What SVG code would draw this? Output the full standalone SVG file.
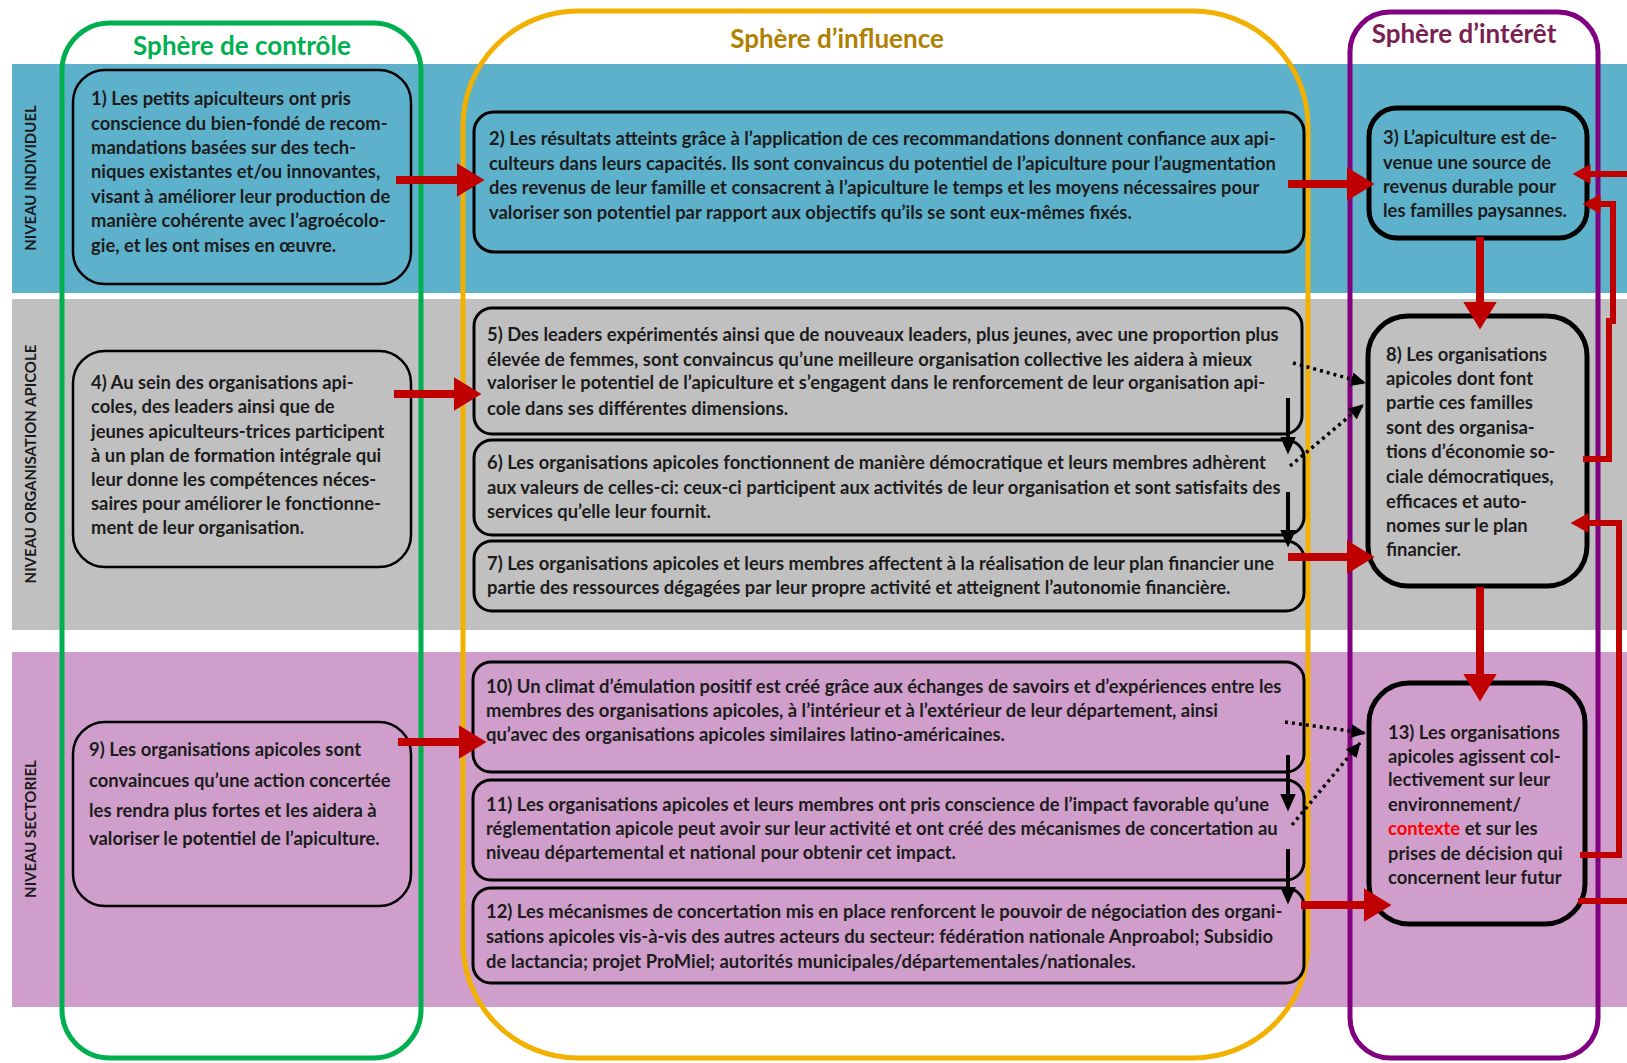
<svg xmlns="http://www.w3.org/2000/svg" width="1627" height="1063" viewBox="0 0 1627 1063">
  <style>
    .band-ind { fill: #5eb1cb; }
    .band-org { fill: #c0c0c0; }
    .band-sec { fill: #cf9ecb; }
    .sphere { fill: none; stroke-width: 5; }
    .title { font-family: Lato, "Liberation Sans", sans-serif; font-weight: bold; font-size: 26px; text-anchor: middle; }
    .lvl { font-family: Lato, "Liberation Sans", sans-serif; font-weight: bold; font-size: 15px; fill: #1a1a1a; text-anchor: middle; }
    .box-l { fill: none; stroke: #000; stroke-width: 2.5; }
    .box-m { fill: none; stroke: #000; stroke-width: 3; }
    .box-r { fill: none; stroke: #000; stroke-width: 5; }
    .txt { font-family: Lato, "Liberation Sans", sans-serif; font-weight: bold; font-size: 18.4px; fill: #1c1c1c; }
    .hl { fill: #ff0000; }
    .red { fill: none; stroke: #c00000; stroke-width: 8; }
    .red-fb { fill: none; stroke: #c00000; stroke-width: 6; }
    .blk { fill: none; stroke: #000; stroke-width: 4; }
    .dot { fill: none; stroke: #000; stroke-width: 3.5; stroke-dasharray: 3 4; }
  </style>
  <defs>
    <marker id="head-red" markerUnits="userSpaceOnUse" markerWidth="28" markerHeight="34" refX="0.5" refY="17" orient="auto">
      <path d="M0,0 L28,17 L0,34 z" fill="#c00000"/>
    </marker>
    <marker id="head-fb" markerUnits="userSpaceOnUse" markerWidth="18" markerHeight="20" refX="0.5" refY="10" orient="auto">
      <path d="M0,0 L18,10 L0,20 z" fill="#c00000"/>
    </marker>
    <marker id="head-blk" markerUnits="userSpaceOnUse" markerWidth="18" markerHeight="16" refX="0.5" refY="8" orient="auto">
      <path d="M0,0 L18,8 L0,16 z" fill="#000"/>
    </marker>
    <marker id="head-dot" markerUnits="userSpaceOnUse" markerWidth="15" markerHeight="14" refX="14" refY="7" orient="auto">
      <path d="M0,0 L15,7 L0,14 z" fill="#000"/>
    </marker>
  </defs>

  <!-- level bands -->
  <g id="bands">
    <rect class="band-ind" x="12" y="64" width="1615" height="229"/>
    <rect class="band-org" x="12" y="299" width="1615" height="331"/>
    <rect class="band-sec" x="12" y="652" width="1615" height="355"/>
    <text class="lvl" transform="translate(36,178) rotate(-90)">NIVEAU INDIVIDUEL</text>
    <text class="lvl" transform="translate(36,464) rotate(-90)">NIVEAU ORGANISATION APICOLE</text>
    <text class="lvl" transform="translate(36,829) rotate(-90)">NIVEAU SECTORIEL</text>
  </g>

  <!-- spheres -->
  <g id="sphere-controle">
    <rect class="sphere" stroke="#00b050" x="62" y="23" width="359" height="1035" rx="48"/>
    <text class="title" fill="#00b050" x="242" y="55">Sphère de contrôle</text>
  </g>
  <g id="sphere-influence">
    <rect class="sphere" stroke="#f2b000" x="463" y="11" width="845" height="1047" rx="115"/>
    <text class="title" fill="#b08000" x="837" y="48">Sphère d’influence</text>
  </g>
  <g id="sphere-interet">
    <rect class="sphere" stroke="#800080" x="1350" y="12" width="248" height="1046" rx="40"/>
    <text class="title" fill="#7a1f52" x="1464" y="43">Sphère d’intérêt</text>
  </g>

  <!-- nodes -->
  <g id="n1">
    <rect class="box-l" x="73" y="70" width="338" height="214" rx="32"/>
    <text class="txt">
      <tspan x="91" y="105">1) Les petits apiculteurs ont pris</tspan>
      <tspan x="91" y="130">conscience du bien-fondé de recom-</tspan>
      <tspan x="91" y="154">mandations basées sur des tech-</tspan>
      <tspan x="91" y="178">niques existantes et/ou innovantes,</tspan>
      <tspan x="91" y="203">visant à améliorer leur production de</tspan>
      <tspan x="91" y="227">manière cohérente avec l’agroécolo-</tspan>
      <tspan x="91" y="252">gie, et les ont mises en œuvre.</tspan>
    </text>
  </g>
  <g id="n2">
    <rect class="box-m" x="474" y="112" width="830" height="140" rx="20"/>
    <text class="txt">
      <tspan x="489" y="145">2) Les résultats atteints grâce à l’application de ces recommandations donnent confiance aux api-</tspan>
      <tspan x="489" y="170">culteurs dans leurs capacités. Ils sont convaincus du potentiel de l’apiculture pour l’augmentation</tspan>
      <tspan x="489" y="194">des revenus de leur famille et consacrent à l’apiculture le temps et les moyens nécessaires pour</tspan>
      <tspan x="489" y="219">valoriser son potentiel par rapport aux objectifs qu’ils se sont eux-mêmes fixés.</tspan>
    </text>
  </g>
  <g id="n3">
    <rect class="box-r" x="1369" y="108" width="218" height="130" rx="28"/>
    <text class="txt">
      <tspan x="1383" y="144">3) L’apiculture est de-</tspan>
      <tspan x="1383" y="169">venue une source de</tspan>
      <tspan x="1383" y="193">revenus durable pour</tspan>
      <tspan x="1383" y="217">les familles paysannes.</tspan>
    </text>
  </g>
  <g id="n4">
    <rect class="box-l" x="73" y="351" width="338" height="216" rx="32"/>
    <text class="txt">
      <tspan x="91" y="389">4) Au sein des organisations api-</tspan>
      <tspan x="91" y="413">coles, des leaders ainsi que de</tspan>
      <tspan x="91" y="438">jeunes apiculteurs-trices participent</tspan>
      <tspan x="91" y="462">à un plan de formation intégrale qui</tspan>
      <tspan x="91" y="486">leur donne les compétences néces-</tspan>
      <tspan x="91" y="510">saires pour améliorer le fonctionne-</tspan>
      <tspan x="91" y="534">ment de leur organisation.</tspan>
    </text>
  </g>
  <g id="n5">
    <rect class="box-m" x="474" y="308" width="828" height="126" rx="18"/>
    <text class="txt">
      <tspan x="487" y="341">5) Des leaders expérimentés ainsi que de nouveaux leaders, plus jeunes, avec une proportion plus</tspan>
      <tspan x="487" y="366">élevée de femmes,  sont convaincus qu’une meilleure organisation collective les aidera à mieux</tspan>
      <tspan x="487" y="389">valoriser le potentiel de l’apiculture et s’engagent dans le renforcement de leur organisation api-</tspan>
      <tspan x="487" y="415">cole dans ses différentes dimensions.</tspan>
    </text>
  </g>
  <g id="n6">
    <rect class="box-m" x="474" y="440" width="830" height="95" rx="18"/>
    <text class="txt">
      <tspan x="487" y="469">6) Les organisations apicoles fonctionnent de manière démocratique et leurs membres adhèrent</tspan>
      <tspan x="487" y="494">aux valeurs de celles-ci: ceux-ci  participent aux activités de leur organisation et sont satisfaits des</tspan>
      <tspan x="487" y="518">services qu’elle leur fournit.</tspan>
    </text>
  </g>
  <g id="n7">
    <rect class="box-m" x="474" y="541" width="830" height="70" rx="18"/>
    <text class="txt">
      <tspan x="487" y="570">7) Les organisations apicoles et leurs membres affectent à la réalisation de leur plan financier une</tspan>
      <tspan x="487" y="594">partie des ressources dégagées par leur propre activité et atteignent l’autonomie financière.</tspan>
    </text>
  </g>
  <g id="n8">
    <rect class="box-r" x="1368" y="316" width="219" height="270" rx="40"/>
    <text class="txt">
      <tspan x="1386" y="361">8) Les organisations</tspan>
      <tspan x="1386" y="385">apicoles dont font</tspan>
      <tspan x="1386" y="409">partie ces familles</tspan>
      <tspan x="1386" y="434">sont des organisa-</tspan>
      <tspan x="1386" y="458">tions d’économie so-</tspan>
      <tspan x="1386" y="483">ciale démocratiques,</tspan>
      <tspan x="1386" y="508">efficaces et auto-</tspan>
      <tspan x="1386" y="532">nomes sur le plan</tspan>
      <tspan x="1386" y="556">financier.</tspan>
    </text>
  </g>
  <g id="n9">
    <rect class="box-l" x="73" y="722" width="338" height="184" rx="32"/>
    <text class="txt">
      <tspan x="89" y="756">9) Les organisations apicoles sont</tspan>
      <tspan x="89" y="787">convaincues qu’une action concertée</tspan>
      <tspan x="89" y="817">les rendra plus fortes et les aidera à</tspan>
      <tspan x="89" y="845">valoriser le potentiel de l’apiculture.</tspan>
    </text>
  </g>
  <g id="n10">
    <rect class="box-m" x="473" y="662" width="831" height="110" rx="18"/>
    <text class="txt">
      <tspan x="486" y="693">10) Un climat d’émulation positif est créé grâce aux échanges de savoirs et d’expériences entre les</tspan>
      <tspan x="486" y="717">membres des organisations apicoles, à l’intérieur et à l’extérieur de leur département, ainsi</tspan>
      <tspan x="486" y="741">qu’avec des organisations apicoles similaires latino-américaines.</tspan>
    </text>
  </g>
  <g id="n11">
    <rect class="box-m" x="473" y="780" width="831" height="100" rx="18"/>
    <text class="txt">
      <tspan x="486" y="811">11) Les organisations apicoles et leurs membres ont pris conscience de l’impact favorable qu’une</tspan>
      <tspan x="486" y="835">réglementation apicole peut avoir sur leur activité et ont créé des mécanismes de concertation au</tspan>
      <tspan x="486" y="859">niveau départemental et national pour obtenir cet impact.</tspan>
    </text>
  </g>
  <g id="n12">
    <rect class="box-m" x="473" y="888" width="831" height="95" rx="18"/>
    <text class="txt">
      <tspan x="486" y="918">12) Les mécanismes de concertation mis en place renforcent le pouvoir de négociation des organi-</tspan>
      <tspan x="486" y="943">sations apicoles vis-à-vis des autres acteurs du secteur: fédération nationale Anproabol; Subsidio</tspan>
      <tspan x="486" y="968">de lactancia; projet ProMiel; autorités municipales/départementales/nationales.</tspan>
    </text>
  </g>
  <g id="n13">
    <rect class="box-r" x="1369" y="683" width="216" height="241" rx="40"/>
    <text class="txt">
      <tspan x="1388" y="739">13) Les organisations</tspan>
      <tspan x="1388" y="763">apicoles agissent col-</tspan>
      <tspan x="1388" y="786">lectivement sur leur</tspan>
      <tspan x="1388" y="811">environnement/</tspan>
      <tspan x="1388" y="835"><tspan class="hl">contexte</tspan> et sur les</tspan>
      <tspan x="1388" y="860">prises de décision qui</tspan>
      <tspan x="1388" y="884">concernent leur futur</tspan>
    </text>
  </g>

  <!-- connectors -->
  <g id="connectors">
    <!-- main causal arrows -->
    <path class="red" d="M396,180 H457" marker-end="url(#head-red)"/>
    <path class="red" d="M394,394 H454" marker-end="url(#head-red)"/>
    <path class="red" d="M398,742 H459" marker-end="url(#head-red)"/>
    <path class="red" d="M1288,184 H1347" marker-end="url(#head-red)"/>
    <path class="red" d="M1288,557 H1347" marker-end="url(#head-red)"/>
    <path class="red" d="M1301,905 H1364" marker-end="url(#head-red)"/>
    <path class="red" d="M1480,237 V302" marker-end="url(#head-red)"/>
    <path class="red" d="M1480,587 V674" marker-end="url(#head-red)"/>
    <!-- feedback loops on the right -->
    <path class="red-fb" d="M1627,174 H1590" marker-end="url(#head-fb)"/>
    <path class="red-fb" d="M1583,459 H1609 V321 H1613 V204 H1600" marker-end="url(#head-fb)"/>
    <path class="red-fb" d="M1580,855 H1619 V523 H1588" marker-end="url(#head-fb)"/>
    <path class="red-fb" d="M1578,901 H1627"/>
    <!-- sequence inside the sphere of influence -->
    <path class="blk" d="M1288,398 V437" marker-end="url(#head-blk)"/>
    <path class="blk" d="M1288,492 V530" marker-end="url(#head-blk)"/>
    <path class="blk" d="M1288,755 V794" marker-end="url(#head-blk)"/>
    <path class="blk" d="M1288,849 V887" marker-end="url(#head-blk)"/>
    <!-- contributions -->
    <path class="dot" d="M1293,363 L1365,383" marker-end="url(#head-dot)"/>
    <path class="dot" d="M1290,466 L1363,405" marker-end="url(#head-dot)"/>
    <path class="dot" d="M1285,722 L1365,733" marker-end="url(#head-dot)"/>
    <path class="dot" d="M1292,825 L1360,743" marker-end="url(#head-dot)"/>
  </g>
</svg>
